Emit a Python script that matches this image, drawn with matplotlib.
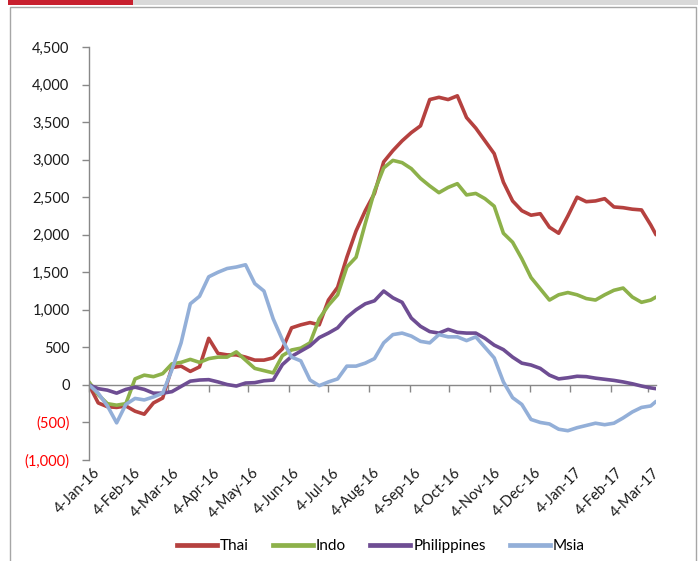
import datetime as dt
import matplotlib
matplotlib.use("Agg")
import matplotlib.pyplot as plt
import matplotlib.dates as mdates
import matplotlib.transforms as mtransforms
from matplotlib.patches import Rectangle
from matplotlib.lines import Line2D
from matplotlib.ticker import FuncFormatter, MultipleLocator

# Weekly observations from 4-Jan-16, plus the last print on 10-Mar-17
start = dt.date(2016, 1, 4)
dates = [start + dt.timedelta(days=7 * i) for i in range(62)] + [dt.date(2017, 3, 10)]

thai = [0, -240, -290, -300, -280, -350, -390, -240, -175, 230,
        250, 180, 240, 620, 420, 400, 400, 370, 330, 330,
        360, 480, 760, 800, 830, 800, 1130, 1300, 1700, 2050,
        2320, 2550, 2970, 3120, 3250, 3360, 3450, 3800, 3830, 3800,
        3850, 3560, 3420, 3250, 3080, 2700, 2450, 2320, 2260, 2280,
        2100, 2020, 2250, 2500, 2440, 2450, 2480, 2370, 2360, 2340,
        2330, 2130, 2000]

indo = [40, -130, -250, -270, -250, 80, 130, 110, 150, 280,
        300, 340, 300, 350, 370, 370, 440, 330, 220, 190,
        160, 390, 465, 490, 560, 880, 1060, 1200, 1570, 1700,
        2150, 2580, 2890, 2990, 2960, 2880, 2750, 2650, 2560, 2630,
        2680, 2530, 2550, 2480, 2380, 2020, 1900, 1680, 1430, 1280,
        1130, 1200, 1230, 1200, 1150, 1130, 1200, 1260, 1290, 1170,
        1100, 1130, 1170]

philippines = [0, -50, -70, -110, -60, -30, -60, -110, -110, -90,
               -20, 50, 65, 70, 40, 5, -15, 25, 30, 55,
               65, 270, 380, 450, 520, 630, 690, 760, 900, 1000,
               1080, 1120, 1250, 1160, 1100, 890, 780, 710, 690, 740,
               700, 690, 690, 620, 530, 470, 370, 290, 265, 220,
               130, 80, 95, 115, 110, 90, 75, 60, 40, 15,
               -15, -40, -50]

msia = [0, -110, -280, -505, -260, -180, -200, -160, -110, 200,
        560, 1080, 1180, 1440, 1500, 1550, 1570, 1600, 1350, 1250,
        880, 600, 370, 320, 65, -10, 40, 80, 250, 250,
        290, 350, 560, 670, 690, 650, 580, 560, 670, 640,
        640, 590, 640, 500, 360, 40, -170, -260, -460, -500,
        -520, -590, -610, -570, -540, -510, -530, -510, -440, -360,
        -300, -280, -220]

series = [
    ("Thai", thai, "#B5413F"),
    ("Indo", indo, "#8DB14A"),
    ("Philippines", philippines, "#6E4D93"),
    ("Msia", msia, "#93AFD8"),
]

tick_dates = [dt.date(2016 + (m // 12), m % 12 + 1, 4) for m in range(15)]
tick_labels = [d.strftime("%-d-%b-%y") for d in tick_dates]

plt.rcParams["font.family"] = ["Lato", "DejaVu Sans"]

fig = plt.figure(figsize=(6.98, 5.61), dpi=100)

# Page furniture: top rule with red accent and the panel border
fig.patches.append(Rectangle((8 / 698, 1 - 5 / 561), 690 / 698, 5 / 561,
                             transform=fig.transFigure, facecolor="#D9D9D9",
                             edgecolor="none", zorder=0))
fig.patches.append(Rectangle((8 / 698, 1 - 5 / 561), 125 / 698, 5 / 561,
                             transform=fig.transFigure, facecolor="#C8202F",
                             edgecolor="none", zorder=1))
fig.patches.append(Rectangle((10 / 698, -0.05), 686 / 698, 1.05 - 7 / 561,
                             transform=fig.transFigure, facecolor="none",
                             edgecolor="#A6A6A6", linewidth=1.0, zorder=1))

ax = fig.add_axes([89 / 698, 1 - 460 / 561, (656 - 89) / 698, (460 - 47) / 561])

for name, vals, color in series:
    ax.plot(dates, vals, color=color, linewidth=2.6, solid_joinstyle="round",
            solid_capstyle="round", label=name)

ax.set_ylim(-1000, 4500)
ax.set_xlim(dt.date(2016, 1, 4), dt.date(2017, 3, 10))
ax.yaxis.set_major_locator(MultipleLocator(500))


def fmt(v, pos):
    if v < 0:
        return "({:,.0f})".format(-v)
    return "{:,.0f}".format(v)


ax.yaxis.set_major_formatter(FuncFormatter(fmt))

for side in ("top", "right", "bottom"):
    ax.spines[side].set_visible(False)
ax.spines["left"].set_color("#888888")
ax.spines["left"].set_linewidth(1.0)
ax.tick_params(axis="y", direction="out", length=5, width=1.0, color="#888888",
               labelsize=10.5, labelcolor="#1A1A1A", pad=9)

# Category labels along the bottom edge
ax.set_xticks([mdates.date2num(d) for d in tick_dates])
ax.set_xticklabels(tick_labels, rotation=45, ha="right", va="top",
                   rotation_mode="anchor", fontsize=10.5, color="#1A1A1A")
ax.tick_params(axis="x", length=0, pad=4)
shift = mtransforms.ScaledTranslation(4 / 100, 0, fig.dpi_scale_trans)
for lbl in ax.get_xticklabels():
    lbl.set_transform(lbl.get_transform() + shift)

# Zero line carrying the month ticks
zero = ax.secondary_xaxis(0, transform=ax.transData)
zero.set_xticks([mdates.date2num(d) for d in tick_dates])
zero.set_xticklabels([])
zero.tick_params(axis="x", direction="out", length=5, width=1.0, color="#888888")
zero.spines["bottom"].set_color("#888888")
zero.spines["bottom"].set_linewidth(1.0)

fig.canvas.draw()
for lbl in ax.get_yticklabels():
    if lbl.get_text().startswith("("):
        lbl.set_color("#FF0000")

handles = [Line2D([0], [0], color=c, linewidth=3.4) for _, _, c in series]
fig.legend(handles, [n for n, _, _ in series], loc="center",
           bbox_to_anchor=(381 / 698, 1 - 546 / 561), ncol=4, frameon=False,
           fontsize=11, handlelength=2.6, handletextpad=0.2, columnspacing=1.6)

fig.savefig("out.png", dpi=100)
